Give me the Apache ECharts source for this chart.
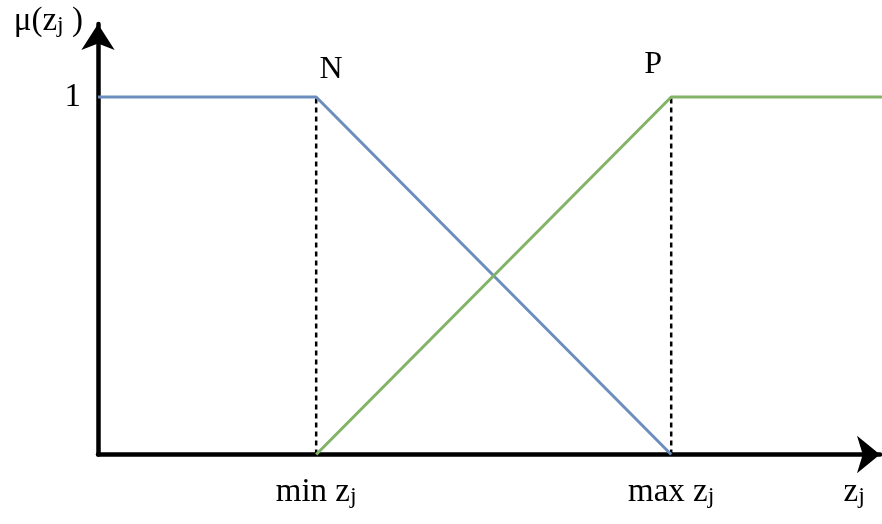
<!DOCTYPE html>
<html><head><meta charset="utf-8">
<script src="https://cdn.jsdelivr.net/npm/echarts@6/dist/echarts.min.js"></script>
<style>html,body{margin:0;padding:0;background:#fff}#c{width:882px;height:524px}</style>
</head><body><div id="c"></div>
<script>
// membership functions N (negative) and P (positive) over z_j
const minZ = 0.279;
const maxZ = 0.733;
const nPoints = [[0, 1], [0.279, 1], [0.733, 0]];
const pPoints = [[0.279, 0], [0.733, 1], [1.003, 1]];
const minGuide = [[0.279, 0], [0.279, 1]];
const maxGuide = [[0.733, 0], [0.733, 1]];
const xTickValues = [0.279, 0.733, 0.967];
const xTickLabels = ['min z', 'max z', 'z'];
const yTickValues = [1];
const yTickLabels = ['1'];
const setNames = ['N', 'P'];

const FONT = 'Liberation Serif';
const rich = {
  t: { fontFamily: FONT, fontSize: 33, lineHeight: 36, color: '#000', verticalAlign: 'bottom' },
  s: { fontFamily: FONT, fontSize: 24, lineHeight: 14, color: '#000', verticalAlign: 'bottom' }
};

function withLabel(points, idx, text, offset) {
  return points.map((p, i) => i === idx ? {
    value: p,
    label: { show: true, formatter: text, position: 'top', offset: offset,
      fontFamily: FONT, fontSize: 32, color: '#000' }
  } : { value: p });
}

const chart = echarts.init(document.getElementById('c'), null, { renderer: 'canvas' });
chart.setOption({
  animation: false,
  grid: { left: 98, right: 2, top: 24, bottom: 69.5 },
  xAxis: {
    type: 'value', min: 0, max: 1,
    splitLine: { show: false },
    axisLine: { show: true, onZero: false, lineStyle: { color: '#000', width: 4.5 },
      symbol: ['none', 'arrow'], symbolSize: [28, 23] },
    axisTick: { show: false },
    axisLabel: {
      customValues: xTickValues, margin: 18,
      formatter: v => '{t|' + xTickLabels[xTickValues.indexOf(v)] + '}{s|j}',
      rich: rich
    }
  },
  yAxis: {
    type: 'value', min: 0, max: 1.204,
    splitLine: { show: false },
    axisLine: { show: true, onZero: false, lineStyle: { color: '#000', width: 4.5 },
      symbol: ['none', 'arrow'], symbolSize: [25, 26] },
    axisTick: { show: false },
    axisLabel: {
      customValues: yTickValues, margin: 17,
      formatter: v => yTickLabels[yTickValues.indexOf(v)],
      fontFamily: FONT, fontSize: 33, color: '#000', padding: [6, 0, 0, 0]
    },
    name: '{t|μ(z}{s|j}{t| )}',
    nameLocation: 'end', nameGap: -14,
    nameTextStyle: { align: 'right', verticalAlign: 'bottom', padding: [0, 15, 0, 0], rich: rich }
  },
  series: [
    { type: 'line', data: minGuide, symbol: 'none', silent: true,
      lineStyle: { color: '#000', width: 2.5, type: [5, 4] } },
    { type: 'line', data: maxGuide, symbol: 'none', silent: true,
      lineStyle: { color: '#000', width: 2.5, type: [5, 4] } },
    { type: 'line', name: setNames[0], clip: false, symbol: 'circle', symbolSize: 0.01,
      itemStyle: { color: 'rgba(0,0,0,0)' },
      data: withLabel(nPoints, 1, setNames[0], [15, -6]),
      lineStyle: { color: '#6c8ebf', width: 3 } },
    { type: 'line', name: setNames[1], clip: false, symbol: 'circle', symbolSize: 0.01,
      itemStyle: { color: 'rgba(0,0,0,0)' },
      data: withLabel(pPoints, 1, setNames[1], [-18, -11]),
      lineStyle: { color: '#82b366', width: 3 } }
  ]
});
</script>
</body></html>
